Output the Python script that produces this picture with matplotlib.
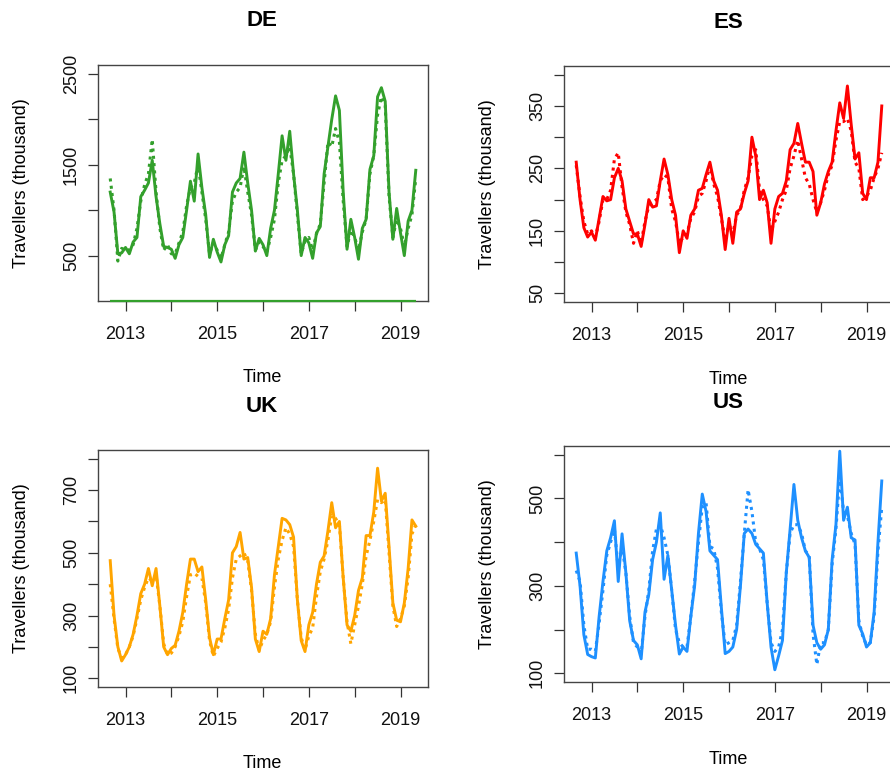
import matplotlib
matplotlib.use("Agg")
import matplotlib.pyplot as plt
import numpy as np

plt.rcParams['font.family'] = ['Liberation Sans', 'DejaVu Sans']

W, H = 890, 774

# monthly series, Sep 2012 .. May 2019
start_year, start_month, n_months = 2012, 9, 81

de_actual = [1200, 980, 520, 530,
             590, 520, 650, 700, 1150, 1220, 1300, 1550, 1150, 850, 600, 590,
             570, 470, 620, 700, 1000, 1320, 1100, 1620, 1250, 950, 480, 680,
             540, 430, 620, 720, 1200, 1300, 1350, 1640, 1300, 1000, 550, 690,
             620, 500, 800, 1000, 1400, 1820, 1550, 1870, 1400, 1000, 500, 700,
             640, 470, 750, 820, 1400, 1700, 2000, 2260, 2100, 1200, 570, 900,
             700, 460, 800, 900, 1450, 1600, 2250, 2350, 2200, 1200, 680, 1020,
             750, 500, 880, 1000, 1440]
de_fitted = [1350, 1000, 440, 580,
             560, 560, 620, 800, 1100, 1280, 1400, 1780, 1200, 800, 560, 620,
             520, 520, 640, 760, 1050, 1250, 1300, 1500, 1200, 900, 520, 640,
             560, 470, 620, 760, 1100, 1200, 1250, 1480, 1200, 950, 560, 650,
             600, 540, 700, 900, 1300, 1550, 1600, 1700, 1400, 950, 520, 660,
             700, 560, 740, 850, 1300, 1750, 1700, 1900, 1750, 1100, 600, 780,
             700, 560, 760, 900, 1400, 1600, 2050, 2250, 2150, 1150, 700, 900,
             800, 600, 800, 950, 1350]
de_base = 0

es_actual = [260, 200, 155, 140,
             148, 135, 170, 205, 198, 200, 235, 250, 230, 185, 165, 145,
             145, 125, 160, 200, 188, 190, 230, 265, 240, 200, 175, 115,
             150, 138, 175, 185, 215, 218, 240, 260, 230, 215, 175, 120,
             170, 130, 180, 185, 210, 230, 300, 270, 200, 215, 195, 130,
             185, 205, 210, 230, 280, 290, 322, 290, 260, 260, 245, 175,
             195, 225, 245, 260, 310, 355, 330, 382, 320, 265, 275, 210,
             200, 235, 235, 260, 350]
es_fitted = [255, 205, 165, 145,
             150, 140, 165, 200, 200, 215, 265, 275, 220, 180, 160, 130,
             150, 130, 165, 190, 195, 200, 230, 240, 235, 185, 165, 130,
             140, 145, 170, 180, 205, 210, 230, 255, 225, 205, 170, 135,
             160, 145, 175, 185, 215, 235, 270, 280, 215, 200, 190, 150,
             165, 180, 200, 215, 250, 270, 295, 265, 235, 225, 200, 180,
             195, 215, 240, 255, 295, 325, 325, 330, 310, 260, 250, 200,
             205, 215, 235, 250, 275]

uk_actual = [475, 300, 200, 155,
             175, 200, 240, 300, 370, 400, 450, 395, 450, 330, 200, 175,
             195, 205, 250, 310, 400, 480, 480, 440, 455, 350, 230, 175,
             225, 225, 290, 350, 500, 520, 565, 480, 485, 390, 225, 185,
             250, 240, 290, 430, 520, 610, 605, 590, 550, 350, 220, 185,
             270, 310, 400, 470, 490, 570, 660, 580, 600, 420, 270, 250,
             300, 380, 420, 555, 555, 630, 770, 665, 690, 520, 340, 285,
             280, 340, 450, 605, 585]
uk_fitted = [400, 290, 195, 165,
             175, 200, 235, 290, 350, 390, 420, 410, 430, 330, 210, 175,
             180, 200, 235, 280, 360, 430, 435, 425, 420, 340, 220, 170,
             195, 215, 260, 320, 420, 480, 490, 500, 475, 380, 240, 190,
             220, 240, 280, 390, 480, 540, 580, 560, 520, 350, 230, 190,
             235, 260, 360, 440, 480, 540, 620, 610, 590, 420, 280, 210,
             270, 330, 400, 490, 540, 600, 670, 660, 670, 500, 330, 265,
             290, 330, 420, 560, 590]

us_actual = [375, 300, 188, 143,
             138, 135, 230, 310, 380, 410, 449, 310, 419, 330, 220, 175,
             165, 133, 240, 280, 360, 400, 467, 315, 370, 290, 210, 144,
             160, 150, 230, 300, 420, 510, 470, 380, 370, 360, 250, 145,
             150, 160, 200, 300, 420, 430, 420, 395, 385, 375, 260, 160,
             108, 140, 175, 330, 430, 532, 450, 410, 380, 365, 210, 170,
             155, 165, 200, 360, 440, 608, 450, 480, 410, 405, 210, 190,
             160, 170, 240, 400, 540]
us_fitted = [335, 310, 210, 155,
             155, 150, 215, 290, 370, 400, 430, 340, 390, 330, 230, 170,
             160, 145, 230, 290, 380, 430, 440, 410, 370, 290, 200, 170,
             160, 160, 230, 310, 400, 480, 490, 390, 385, 340, 240, 165,
             170, 175, 210, 310, 420, 520, 470, 400, 385, 360, 260, 170,
             150, 160, 200, 330, 420, 440, 440, 420, 380, 370, 190, 120,
             170, 170, 200, 350, 430, 550, 470, 460, 420, 395, 220, 185,
             165, 170, 230, 380, 480]

panels = [
    # name, actual, fitted, colour, ylim, yticks, labelled ticks, box (l, t, b) px
    ("DE", de_actual, de_fitted, "#33A02C", (0, 2600), np.arange(500, 2501, 500),
     [500, 1500, 2500], (98, 65, 301)),
    ("ES", es_actual, es_fitted, "#FF0000", (36, 414), np.arange(50, 401, 50),
     [50, 150, 250, 350], (564, 66, 302)),
    ("UK", uk_actual, uk_fitted, "#FFA500", (72, 828), np.arange(100, 801, 100),
     [100, 300, 500, 700], (98, 450, 687)),
    ("US", us_actual, us_fitted, "#1E90FF", (80, 620), np.arange(100, 601, 100),
     [100, 300, 500], (564, 446, 682)),
]

t = start_year + (start_month - 1) / 12 + np.arange(n_months) / 12
x_range = (t[0], t[-1])
pad = 0.04 * (x_range[1] - x_range[0])

fig = plt.figure(figsize=(W / 100, H / 100), dpi=100)
box_w = 330

for name, actual, fitted, colour, ylim, yticks, ylabs, (l, tp, b) in panels:
    ax = fig.add_axes([l / W, 1 - b / H, box_w / W, (b - tp) / H])
    ax.plot(t, actual, color=colour, lw=2.1, solid_joinstyle="round")
    ax.plot(t, fitted, color=colour, lw=2.2, linestyle=(0, (1, 1.4)))
    if name == "DE":
        ax.hlines(de_base, t[0], t[-1], color=colour, lw=1.6, zorder=3, clip_on=False)
    ax.set_xlim(x_range[0] - pad, x_range[1] + pad)
    ax.set_ylim(*ylim)

    ax.set_xticks(np.arange(2013, 2020))
    ax.set_xticklabels([str(y) if y % 2 == 1 else "" for y in range(2013, 2020)])
    ax.set_yticks(yticks)
    ax.set_yticklabels([str(v) if v in ylabs else "" for v in yticks],
                       rotation=90, va="center")
    ax.tick_params(direction="out", length=7, width=0.9, color="#333333",
                   labelsize=13, labelcolor="#111111")
    ax.tick_params(axis="x", pad=11)
    ax.tick_params(axis="y", pad=6)
    for s in ax.spines.values():
        s.set_color("#444444")
        s.set_linewidth(1.0)

    cx = l + box_w / 2 - 1
    fig.text(cx / W, 1 - (tp - 44) / H, name, ha="center", va="center",
             fontsize=16, fontweight="bold")
    fig.text(cx / W, 1 - (b + 77) / H, "Time", ha="center", va="center", fontsize=13)
    fig.text((l - 76) / W, 1 - ((tp + b) / 2) / H, "Travellers (thousand)",
             rotation=90, ha="center", va="center", fontsize=13)

fig.savefig("out.png", dpi=100)
